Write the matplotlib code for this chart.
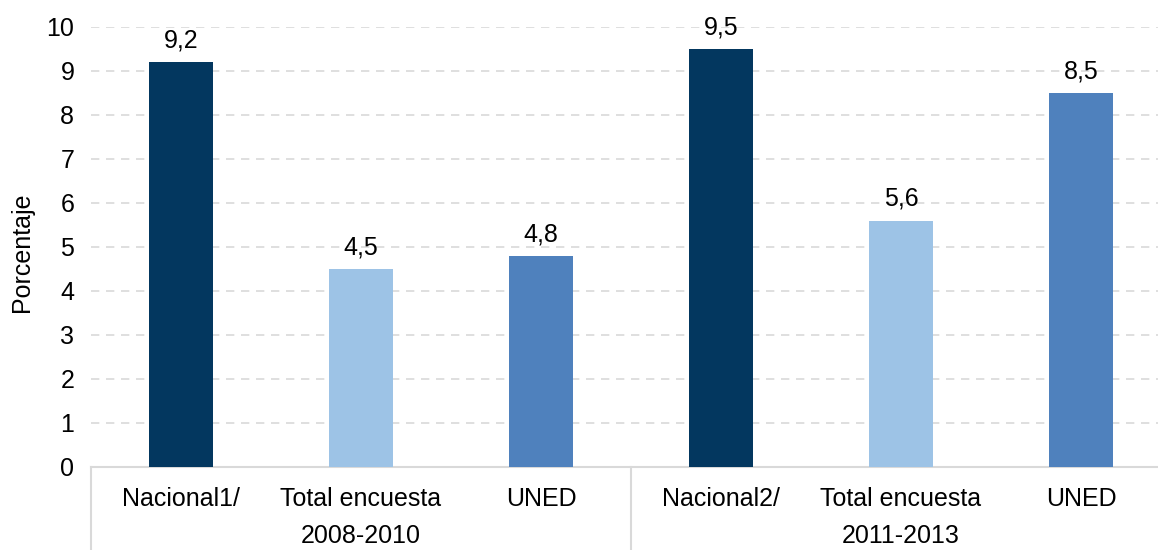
import matplotlib
matplotlib.use("Agg")
import matplotlib.pyplot as plt
from matplotlib.transforms import blended_transform_factory

plt.rcParams['font.family'] = ['Liberation Sans', 'DejaVu Sans']

categories = ["Nacional1/", "Total encuesta", "UNED", "Nacional2/", "Total encuesta", "UNED"]
groups = ["2008-2010", "2011-2013"]
values = [9.2, 4.5, 4.8, 9.5, 5.6, 8.5]
labels = ["9,2", "4,5", "4,8", "9,5", "5,6", "8,5"]
colors = ["#03375F", "#9DC3E6", "#4F81BD", "#03375F", "#9DC3E6", "#4F81BD"]

W, H = 1158, 550
FS = 18
fig = plt.figure(figsize=(W / 100, H / 100), dpi=100)
ax = fig.add_axes([91 / W, 83 / H, 1080 / W, 440 / H])

x = list(range(len(values)))
bars = ax.bar(x, values, width=0.355, color=colors, zorder=3)
for b, lab in zip(bars, labels):
    ax.annotate(lab, (b.get_x() + b.get_width() / 2, b.get_height()),
                xytext=(0, 7), textcoords="offset points",
                ha="center", va="bottom", fontsize=FS, color="#000000")

ax.set_xlim(-0.5, 5.5)
ax.set_ylim(0, 10)
ax.set_yticks(range(0, 11))
ax.tick_params(axis="y", length=0, labelsize=FS, pad=12)
ax.set_xticks([])
ax.grid(axis="y", color="#D9D9D9", linestyle=(0, (5, 4)), linewidth=1.2, zorder=0)
for s in ["top", "right", "left"]:
    ax.spines[s].set_visible(False)
ax.spines["bottom"].set_color("#D9D9D9")
ax.spines["bottom"].set_linewidth(1.5)
ax.set_ylabel("Porcentaje", fontsize=FS)
ax.yaxis.label.set_verticalalignment("center")
ax.yaxis.set_label_coords((22 - 91) / 1080, (467 - 252) / 440)

trans = blended_transform_factory(ax.transData, fig.transFigure)
for i, c in enumerate(categories):
    ax.text(i, 51 / H, c, transform=trans, ha="center", va="center", fontsize=FS)
for g, name in enumerate(groups):
    ax.text(g * 3 + 1, 2 / H, name, transform=trans, ha="center", va="bottom", fontsize=FS)
for xs in [-0.5, 2.5]:
    ax.plot([xs, xs], [0, 83 / H], transform=trans, color="#D9D9D9",
            linewidth=1.5, clip_on=False)

fig.savefig("out.png", dpi=100)
